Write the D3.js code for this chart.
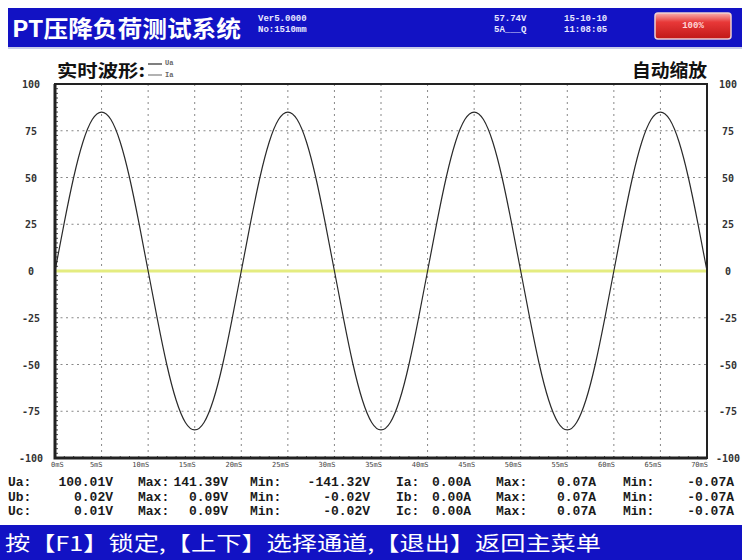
<!DOCTYPE html>
<html lang="zh">
<head>
<meta charset="utf-8">
<style type="text/css">
    body { margin: 0; background: #ffffff; }
    .cn_text { font-family: "Noto Sans CJK SC", sans-serif; font-weight: bold; }
    .mono_text { font-family: "Liberation Mono", "DejaVu Sans Mono", monospace; font-weight: bold; }
    .tick_text { font-family: "DejaVu Sans Mono", monospace; font-weight: bold; font-size: 10px; fill: #333; }
</style>
</head>
<body>
<div id="screen"></div>
<script src="https://cdn.jsdelivr.net/npm/d3@7/dist/d3.min.js"></script>
<script type="text/javascript">
    // waveform samples, 1 mS apart
    var uaWave = [0, 26, 50, 69, 81, 85, 81, 69, 50, 26, 0, -26, -50, -69, -81, -85, -81, -69, -50, -26,
                  0, 26, 50, 69, 81, 85, 81, 69, 50, 26, 0, -26, -50, -69, -81, -85, -81, -69, -50, -26,
                  0, 26, 50, 69, 81, 85, 81, 69, 50, 26, 0, -26, -50, -69, -81, -85, -81, -69, -50, -26,
                  0, 26, 50, 69, 81, 85, 81, 69, 50, 26, 0];
    // Ia sampled every 5 mS
    var iaWave = [0, 0, 0, 0, 0, 0, 0, 0, 0, 0, 0, 0, 0, 0, 0];

    var yTicks = [100, 75, 50, 25, 0, -25, -50, -75, -100];
    var xTicks = [0, 5, 10, 15, 20, 25, 30, 35, 40, 45, 50, 55, 60, 65, 70];

    var channels = ["Ua", "Ub", "Uc", "Ia", "Ib", "Ic"];
    var rmsValues = ["100.01V", "0.02V", "0.01V", "0.00A", "0.00A", "0.00A"];
    var maxValues = ["141.39V", "0.09V", "0.09V", "0.07A", "0.07A", "0.07A"];
    var minValues = ["-141.32V", "-0.02V", "-0.02V", "-0.07A", "-0.07A", "-0.07A"];

    var width = 742, height = 560;
    var plot = {left: 55, right: 707, top: 84, bottom: 458};
    var blue = "#1212c4";

    var svg = d3.select("#screen").append("svg")
        .attr("width", width)
        .attr("height", height);

    // ---- header bar
    svg.append("rect").attr("x", 8).attr("y", 8).attr("width", width - 8).attr("height", 39).attr("fill", blue);
    svg.append("rect").attr("x", 8).attr("y", 47).attr("width", width - 8).attr("height", 2).attr("fill", "#c8cce8");

    svg.append("text").attr("class", "cn_text")
        .attr("x", 12).attr("y", 37)
        .attr("font-size", 23).attr("fill", "#fff")
        .attr("textLength", 229).attr("lengthAdjust", "spacingAndGlyphs")
        .text("PT压降负荷测试系统");

    var headSmall = [
        {x: 258, y: 21, t: "Ver5.0000"}, {x: 258, y: 32, t: "No:1510mm"},
        {x: 494, y: 21, t: "57.74V"}, {x: 494, y: 32, t: "5A___Q"},
        {x: 564, y: 21, t: "15-10-10"}, {x: 564, y: 32, t: "11:08:05"}
    ];
    svg.selectAll(".head_small").data(headSmall).enter().append("text")
        .attr("class", "mono_text head_small")
        .attr("x", function(d) { return d.x; })
        .attr("y", function(d) { return d.y; })
        .attr("font-size", 9).attr("fill", "#e8e8ff")
        .text(function(d) { return d.t; });

    var grad = svg.append("defs").append("linearGradient")
        .attr("id", "redbtn").attr("x1", 0).attr("y1", 0).attr("x2", 0).attr("y2", 1);
    grad.append("stop").attr("offset", "0%").attr("stop-color", "#f8b0b0");
    grad.append("stop").attr("offset", "35%").attr("stop-color", "#e83838");
    grad.append("stop").attr("offset", "100%").attr("stop-color", "#c01818");
    svg.append("rect").attr("x", 655).attr("y", 13).attr("width", 76).attr("height", 26)
        .attr("rx", 3).attr("fill", "url(#redbtn)").attr("stroke", "#f0d0d0").attr("stroke-width", 1.5);
    svg.append("text").attr("class", "mono_text")
        .attr("x", 693).attr("y", 28).attr("text-anchor", "middle")
        .attr("font-size", 9).attr("fill", "#ffd8d8")
        .text("100%");

    // ---- titles above plot
    svg.append("text").attr("class", "cn_text")
        .attr("x", 57).attr("y", 77).attr("font-size", 17).attr("fill", "#111")
        .attr("textLength", 88).attr("lengthAdjust", "spacingAndGlyphs")
        .text("实时波形:");
    svg.append("line").attr("x1", 148).attr("x2", 162).attr("y1", 64).attr("y2", 64)
        .attr("stroke", "#555").attr("stroke-width", 1.5);
    svg.append("line").attr("x1", 148).attr("x2", 162).attr("y1", 75).attr("y2", 75)
        .attr("stroke", "#999").attr("stroke-width", 1.5);
    svg.append("text").attr("class", "mono_text").attr("x", 165).attr("y", 65)
        .attr("font-size", 7).attr("fill", "#666").text("Ua");
    svg.append("text").attr("class", "mono_text").attr("x", 165).attr("y", 77)
        .attr("font-size", 7).attr("fill", "#666").text("Ia");

    svg.append("text").attr("class", "cn_text")
        .attr("x", 707).attr("y", 77).attr("text-anchor", "end")
        .attr("font-size", 18).attr("fill", "#111")
        .attr("textLength", 75).attr("lengthAdjust", "spacingAndGlyphs")
        .text("自动缩放");

    // ---- scales
    var x = d3.scaleLinear().domain([0, 70]).range([plot.left, plot.right]);
    var y = d3.scaleLinear().domain([-100, 100]).range([plot.bottom, plot.top]);

    // grid
    svg.selectAll(".hgrid").data(yTicks.filter(function(d) { return Math.abs(d) != 100 && d != 0; }))
        .enter().append("line")
        .attr("x1", plot.left).attr("x2", plot.right)
        .attr("y1", function(d) { return y(d); }).attr("y2", function(d) { return y(d); })
        .attr("stroke", "#888").attr("stroke-width", 1).attr("stroke-dasharray", "2,3.5");
    svg.selectAll(".vgrid").data(xTicks.filter(function(d) { return d > 0 && d < 70; }))
        .enter().append("line")
        .attr("y1", plot.top).attr("y2", plot.bottom)
        .attr("x1", function(d) { return x(d); }).attr("x2", function(d) { return x(d); })
        .attr("stroke", "#888").attr("stroke-width", 1).attr("stroke-dasharray", "2,4");

    // minor ticks on left and bottom axes
    svg.selectAll(".ytick_minor").data(d3.range(-100, 100.1, 2.5)).enter().append("line")
        .attr("x1", plot.left).attr("x2", plot.left + 3)
        .attr("y1", function(d) { return y(d); }).attr("y2", function(d) { return y(d); })
        .attr("stroke", "#444").attr("stroke-width", 1);
    svg.selectAll(".xtick_minor").data(d3.range(0, 70.1, 1)).enter().append("line")
        .attr("y1", plot.bottom).attr("y2", plot.bottom - 2)
        .attr("x1", function(d) { return x(d); }).attr("x2", function(d) { return x(d); })
        .attr("stroke", "#444").attr("stroke-width", 1);

    // Ia (yellow) line
    svg.append("path")
        .datum(iaWave)
        .attr("fill", "none").attr("stroke", "#e4ec80").attr("stroke-width", 3)
        .attr("d", d3.line()
            .x(function(d, i) { return x(i * 5); })
            .y(function(d) { return y(d); }));

    // Ua waveform
    svg.append("path")
        .datum(uaWave)
        .attr("fill", "none").attr("stroke", "#2a2a2a").attr("stroke-width", 1.2)
        .attr("d", d3.line()
            .curve(d3.curveNatural)
            .x(function(d, i) { return x(i); })
            .y(function(d) { return y(d); }));

    // frame
    svg.append("rect")
        .attr("x", plot.left).attr("y", plot.top)
        .attr("width", plot.right - plot.left).attr("height", plot.bottom - plot.top)
        .attr("fill", "none").attr("stroke", "#222").attr("stroke-width", 2);
    svg.append("path")
        .attr("d", "M" + plot.left + "," + plot.top + "V" + plot.bottom + "H" + plot.right)
        .attr("fill", "none").attr("stroke", "#222").attr("stroke-width", 3);

    // y labels on both sides
    [31, 728].forEach(function(px) {
        svg.selectAll(".ylab" + px).data(yTicks).enter().append("text")
            .attr("class", "tick_text")
            .attr("x", px)
            .attr("y", function(d) { return y(d) + 4; })
            .attr("text-anchor", "middle")
            .text(function(d) { return d; });
    });

    // x labels
    svg.selectAll(".xlab").data(xTicks).enter().append("text")
        .attr("font-family", "DejaVu Sans Mono, monospace")
        .attr("font-size", 7).attr("fill", "#444")
        .attr("x", function(d) { return d === 0 ? x(d) - 4 : x(d) + 1; })
        .attr("y", 467)
        .attr("text-anchor", function(d) { return d === 0 ? "start" : "end"; })
        .text(function(d) { return d + "mS"; });

    // ---- readout rows
    var cols = [
        {lab: 8, val: 113, group: 0},
        {lab: 396, val: 471, group: 3}
    ];
    cols.forEach(function(c) {
        for (var r = 0; r < 3; r++) {
            var k = c.group + r;
            var yy = 486 + r * 14.5;
            var row = [
                {x: c.lab, a: "start", t: channels[k] + ":"},
                {x: c.val, a: "end", t: rmsValues[k]},
                {x: c.lab + 130 - (c.group ? 30 : 0), a: "start", t: "Max:"},
                {x: c.val + (c.group ? 125 : 115), a: "end", t: maxValues[k]},
                {x: c.lab + (c.group ? 227 : 242), a: "start", t: "Min:"},
                {x: c.val + (c.group ? 263 : 257), a: "end", t: minValues[k]}
            ];
            svg.selectAll(null).data(row).enter().append("text")
                .attr("class", "mono_text")
                .attr("font-size", 13).attr("fill", "#1a1a1a")
                .attr("x", function(d) { return d.x; })
                .attr("y", yy)
                .attr("text-anchor", function(d) { return d.a; })
                .text(function(d) { return d.t; });
        }
    });

    // ---- bottom bar
    svg.append("rect").attr("x", 0).attr("y", 525).attr("width", width).attr("height", 35).attr("fill", blue);
    svg.append("text")
        .attr("font-family", "Noto Sans CJK SC, sans-serif")
        .attr("x", 5).attr("y", 551).attr("font-size", 20).attr("fill", "#fff")
        .attr("textLength", 596).attr("lengthAdjust", "spacingAndGlyphs")
        .text("按【F1】锁定,【上下】选择通道,【退出】返回主菜单");
</script>
</body>
</html>
